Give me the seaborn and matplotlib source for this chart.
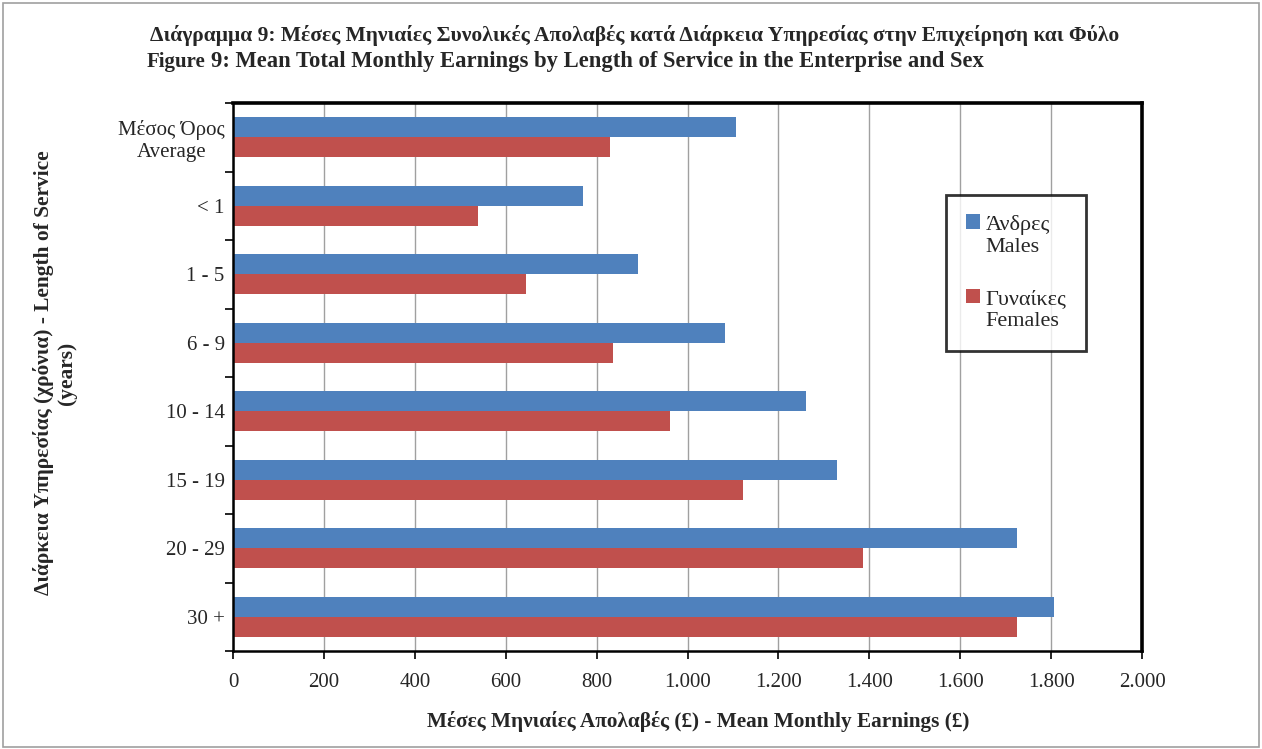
import matplotlib
matplotlib.use("Agg")
import matplotlib.pyplot as plt
import seaborn as sns
import pandas as pd
import numpy as np
from matplotlib.patches import Rectangle
from matplotlib.ticker import FuncFormatter, FixedLocator
from matplotlib.legend_handler import HandlerPatch

categories = ["Μέσος Όρος\nAverage", "< 1", "1 - 5", "6 - 9", "10 - 14", "15 - 19", "20 - 29", "30 +"]
males = [1107, 771, 890, 1082, 1261, 1330, 1726, 1807]
females = [830, 539, 645, 835, 962, 1123, 1387, 1724]
series_names = ["Άνδρες\nMales", "Γυναίκες\nFemales"]
colors = ["#4F81BD", "#C0504D"]
xticks = list(range(0, 2001, 200))

title1 = "Διάγραμμα 9: Μέσες Μηνιαίες Συνολικές Απολαβές κατά Διάρκεια Υπηρεσίας στην Επιχείρηση και Φύλο"
title2a = "Figure"
title2b = "9: Mean Total Monthly Earnings by Length of Service in the Enterprise and Sex"
ylabel = "Διάρκεια Υπηρεσίας (χρόνια) - Length of Service\n(years)"
xlabel = "Μέσες Μηνιαίες Απολαβές (£) - Mean Monthly Earnings (£)"

df = pd.DataFrame({
    "category": categories * 2,
    "value": males + females,
    "series": [series_names[0]] * len(categories) + [series_names[1]] * len(categories),
})

sns.set_theme(style="white")
plt.rcParams["font.family"] = ["Liberation Serif", "DejaVu Serif"]

W, H = 1262, 749
fig = plt.figure(figsize=(W / 100, H / 100), dpi=100)
ax = fig.add_axes([233 / W, 1 - 651 / H, (1142 - 233) / W, (651 - 103) / H])

sns.barplot(data=df, y="category", x="value", hue="series", order=categories,
            hue_order=series_names, palette=colors, orient="h", width=0.58,
            saturation=1, ax=ax, legend=True, edgecolor="none", linewidth=0)

ax.set_xlim(0, 2000)
ax.set_ylim(len(categories) - 0.5, -0.5)
ax.xaxis.set_major_locator(FixedLocator(xticks))
ax.xaxis.set_major_formatter(FuncFormatter(lambda v, p: f"{int(v):,}".replace(",", ".")))
ax.grid(axis="x", color="#A0A0A0", linewidth=1.0)
ax.grid(axis="y", visible=False)
ax.set_axisbelow(True)

ax.tick_params(axis="x", which="major", direction="out", length=6, width=1.2, color="black",
               labelsize=15, pad=10, bottom=True)
ax.tick_params(axis="y", which="major", length=0, labelsize=15, pad=6, left=True)
ax.set_yticks(np.arange(-0.5, len(categories), 1.0), minor=True)
ax.tick_params(axis="y", which="minor", direction="out", length=6, width=1.2, color="black", left=True)
for lbl in ax.get_yticklabels():
    lbl.set_horizontalalignment("right")
    lbl.set_multialignment("center")

for s in ax.spines.values():
    s.set_color("black")
    s.set_linewidth(1.8)
ax.spines["top"].set_linewidth(2.6)
ax.spines["right"].set_linewidth(2.6)

ax.set_xlabel("")
ax.set_ylabel("")


def top_patch(legend, orig_handle, xdescent, ydescent, width, height, fontsize):
    shift = fontsize * 0.62
    return Rectangle((-xdescent, -ydescent + shift), width, height)


handles, labels = ax.get_legend_handles_labels()
leg = ax.legend(handles, labels, loc="upper left",
                bbox_to_anchor=((946 - 233) / 909, 1 - (195 - 103) / 548),
                frameon=True, fontsize=16, handlelength=0.62, handleheight=0.62,
                labelspacing=1.5, borderpad=0.9, handletextpad=0.25, fancybox=False,
                borderaxespad=0, handler_map={Rectangle: HandlerPatch(patch_func=top_patch)})
leg.get_frame().set_edgecolor("black")
leg.get_frame().set_linewidth(2.0)

fig.text(150 / W, 1 - 35 / H, title1, fontsize=15.5, fontweight="bold", ha="left", va="center")
fig.text(147 / W, 1 - 62 / H, title2a, fontsize=15, fontweight="bold", ha="left", va="center")
fig.text(211 / W, 1 - 62 / H, title2b, fontsize=16.3, fontweight="bold", ha="left", va="center")

fig.text(698 / W, 1 - 722 / H, xlabel, fontsize=15.3, fontweight="bold", ha="center", va="center")
fig.text(55 / W, 1 - 373 / H, ylabel, fontsize=15.4, fontweight="bold", ha="center", va="center",
         rotation=90, multialignment="center")

fig.patches.append(Rectangle((3 / W, 2 / H), (W - 6) / W, (H - 5) / H, transform=fig.transFigure,
                             fill=False, edgecolor="#A0A0A0", linewidth=1.2))

fig.savefig("out.png", dpi=100)
